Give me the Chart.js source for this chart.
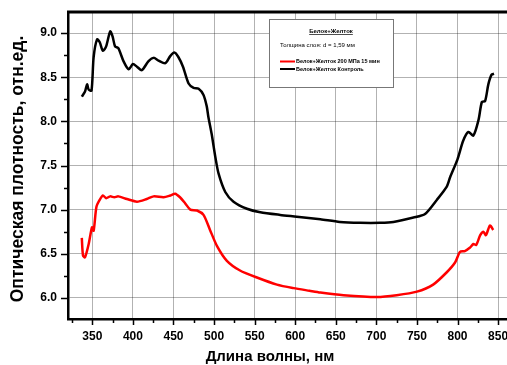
<!DOCTYPE html>
<html>
<head>
<meta charset="utf-8">
<script src="https://cdn.jsdelivr.net/npm/chart.js@4.4.1/dist/chart.umd.min.js"></script>
<style>
  body { margin: 0; background: #fff; }
  #wrap { width: 507px; height: 365px; }
</style>
</head>
<body>
<div id="wrap"><canvas id="spectrum" width="507" height="365"></canvas></div>
<script>
// Spectrum data
const blackNm = [337, 341, 343.5, 345.5, 349, 351.6, 355.8, 359, 363, 367, 372, 375, 378, 382, 388.5, 394.7,
    400, 405, 411, 419, 425.5, 431.5, 440, 446, 451, 456, 461.7, 468.6, 474.8, 481, 487, 491, 493, 497,
    501.5, 505.5, 513.8, 524, 540.5, 557, 581.5, 602, 631, 655, 680, 705, 721, 745.7, 760, 774.5, 786.8,
    791, 800, 807, 813.5, 819.6, 826, 830, 834, 838, 842, 845];
const blackVal = [8.28, 8.34, 8.42, 8.36, 8.35, 8.73, 8.93, 8.90, 8.80, 8.85, 9.02, 8.96, 8.85, 8.83, 8.68, 8.59,
    8.65, 8.62, 8.58, 8.68, 8.72, 8.69, 8.66, 8.74, 8.78, 8.73, 8.62, 8.43, 8.38, 8.37, 8.30, 8.17, 8.05, 7.86,
    7.60, 7.41, 7.20, 7.09, 7.01, 6.97, 6.94, 6.92, 6.89, 6.86, 6.85, 6.85, 6.86, 6.91, 6.95, 7.11, 7.26,
    7.37, 7.57, 7.78, 7.88, 7.84, 8.02, 8.22, 8.23, 8.42, 8.53, 8.54];

const redNm = [337, 338.5, 341, 345.5, 349.6, 351.6, 355, 359, 363, 367, 372, 377, 382, 392.6, 405, 417, 425.5,
    437.8, 446, 452, 458, 464.5, 470.7, 479, 487, 495, 503.5, 515.8, 532, 552.8, 577.5, 598, 617.6, 631,
    659.5, 700.6, 725, 750, 770, 786.8, 797, 803, 809, 815.5, 819.6, 823, 828, 832, 835, 840, 844];
const redVal = [6.68, 6.48, 6.46, 6.61, 6.80, 6.76, 7.03, 7.11, 7.16, 7.13, 7.15, 7.14, 7.15, 7.12, 7.09, 7.12, 7.15,
    7.14, 7.16, 7.18, 7.14, 7.07, 7.00, 6.99, 6.94, 6.77, 6.59, 6.42, 6.31, 6.23, 6.15, 6.11, 6.08, 6.06,
    6.03, 6.01, 6.03, 6.07, 6.15, 6.29, 6.40, 6.52, 6.53, 6.57, 6.61, 6.60, 6.71, 6.75, 6.71, 6.82, 6.77];

const xTicks = [350, 400, 450, 500, 550, 600, 650, 700, 750, 800, 850];
const yTicks = [6.0, 6.5, 7.0, 7.5, 8.0, 8.5, 9.0];

const xTitle = 'Длина волны, нм';
const yTitle = 'Оптическая плотность, отн.ед.';
const legendTitle = 'Белок+Желток';
const legendNote = 'Толщина слоя: d = 1,59 мм';

const FONT = '"Liberation Sans", Arial, sans-serif';

function toPoints(xs, ys) {
    return xs.map((x, i) => ({ x: x, y: ys[i] }));
}

// top border, outward tick marks, axis titles and the legend box
const framePlugin = {
    id: 'frame',
    afterDraw(chart) {
        const c = chart.ctx;
        const area = chart.chartArea;
        const xs = chart.scales.x;
        const ys = chart.scales.y;
        c.save();
        c.strokeStyle = '#000';
        c.lineWidth = 3;
        c.beginPath();
        c.moveTo(area.left - 1, area.top);
        c.lineTo(area.right, area.top);
        c.stroke();

        c.lineWidth = 1.5;
        c.beginPath();
        const xStep = xTicks[1] - xTicks[0];
        for (let v = xTicks[0] - xStep / 2; v <= xs.max; v += xStep / 2) {
            if (v < xs.min) continue;
            const px = Math.round(xs.getPixelForValue(v)) + 0.5;
            const major = xTicks.includes(v);
            c.moveTo(px, area.bottom);
            c.lineTo(px, area.bottom + (major ? 6 : 4));
        }
        const yStep = yTicks[1] - yTicks[0];
        for (let v = yTicks[0] - yStep / 2; v <= ys.max; v += yStep / 2) {
            if (v < ys.min) continue;
            const py = Math.round(ys.getPixelForValue(v)) + 0.5;
            const major = yTicks.some(t => Math.abs(t - v) < 1e-6);
            c.moveTo(area.left, py);
            c.lineTo(area.left - (major ? 7 : 4), py);
        }
        c.stroke();

        // axis titles
        c.fillStyle = '#000';
        c.textAlign = 'center';
        c.textBaseline = 'middle';
        c.font = 'bold 15px ' + FONT;
        c.fillText(xTitle, 270, 357);
        c.save();
        c.translate(18, 169);
        c.rotate(-Math.PI / 2);
        c.font = 'bold 17.5px ' + FONT;
        c.fillText(yTitle, 0, 0);
        c.restore();

        // legend box
        const bx = 269, by = 19, bw = 124, bh = 68;
        c.fillStyle = '#fff';
        c.fillRect(bx, by, bw, bh);
        c.strokeStyle = '#777';
        c.lineWidth = 1;
        c.strokeRect(bx + 0.5, by + 0.5, bw, bh);

        c.fillStyle = '#000';
        c.font = 'bold 6px ' + FONT;
        c.fillText(legendTitle, bx + 62, by + 12);
        const tw = c.measureText(legendTitle).width;
        c.fillRect(bx + 62 - tw / 2, by + 15, tw, 0.7);

        c.textAlign = 'left';
        c.font = '6px ' + FONT;
        c.fillText(legendNote, bx + 11, by + 26);

        [0, 1].forEach((di, k) => {
            const ds = chart.data.datasets[di];
            const ly = by + 42.5 + k * 7.5;
            c.strokeStyle = ds.borderColor;
            c.lineWidth = 2;
            c.beginPath();
            c.moveTo(bx + 11, ly);
            c.lineTo(bx + 26, ly);
            c.stroke();
            c.font = 'bold 5.5px ' + FONT;
            c.fillText(ds.label, bx + 27, ly);
        });
        c.restore();
    }
};

const ctx = document.getElementById('spectrum').getContext('2d');
const spectrumChart = new Chart(ctx, {
    type: 'line',
    data: {
        datasets: [{
            label: 'Белок+Желток 200 МПа 15 мин',
            data: toPoints(redNm, redVal),
            borderColor: '#ff0000',
            borderWidth: 2.5,
            pointRadius: 0,
            tension: 0.25,
            fill: false
        }, {
            label: 'Белок+Желток Контроль',
            data: toPoints(blackNm, blackVal),
            borderColor: '#000000',
            borderWidth: 2.5,
            pointRadius: 0,
            tension: 0.25,
            fill: false
        }]
    },
    options: {
        responsive: false,
        animation: false,
        layout: { padding: { top: 12, right: 0, left: 0, bottom: 0 } },
        plugins: {
            legend: { display: false },
            tooltip: { enabled: false }
        },
        scales: {
            x: {
                type: 'linear',
                min: 320,
                max: 861,
                afterBuildTicks: s => { s.ticks = xTicks.map(v => ({ value: v })); },
                afterFit: s => { s.height = 46; s.paddingLeft = 0; s.paddingRight = 0; },
                grid: { color: 'rgba(0,0,0,0.3)', lineWidth: 1, drawTicks: false },
                border: { display: true, color: '#000', width: 2.5 },
                ticks: {
                    color: '#000',
                    padding: 10,
                    maxRotation: 0,
                    font: { family: FONT, size: 12, weight: 'bold' }
                }
            },
            y: {
                min: 5.76,
                max: 9.24,
                afterBuildTicks: s => { s.ticks = yTicks.map(v => ({ value: v })); },
                afterFit: s => { s.width = 68; s.paddingTop = 0; s.paddingBottom = 0; },
                grid: { color: 'rgba(0,0,0,0.3)', lineWidth: 1, drawTicks: false },
                border: { display: true, color: '#000', width: 2.5 },
                ticks: {
                    color: '#000',
                    padding: 11,
                    callback: v => v.toFixed(1),
                    font: { family: FONT, size: 12, weight: 'bold' }
                }
            }
        }
    },
    plugins: [framePlugin]
});
</script>
</body>
</html>
